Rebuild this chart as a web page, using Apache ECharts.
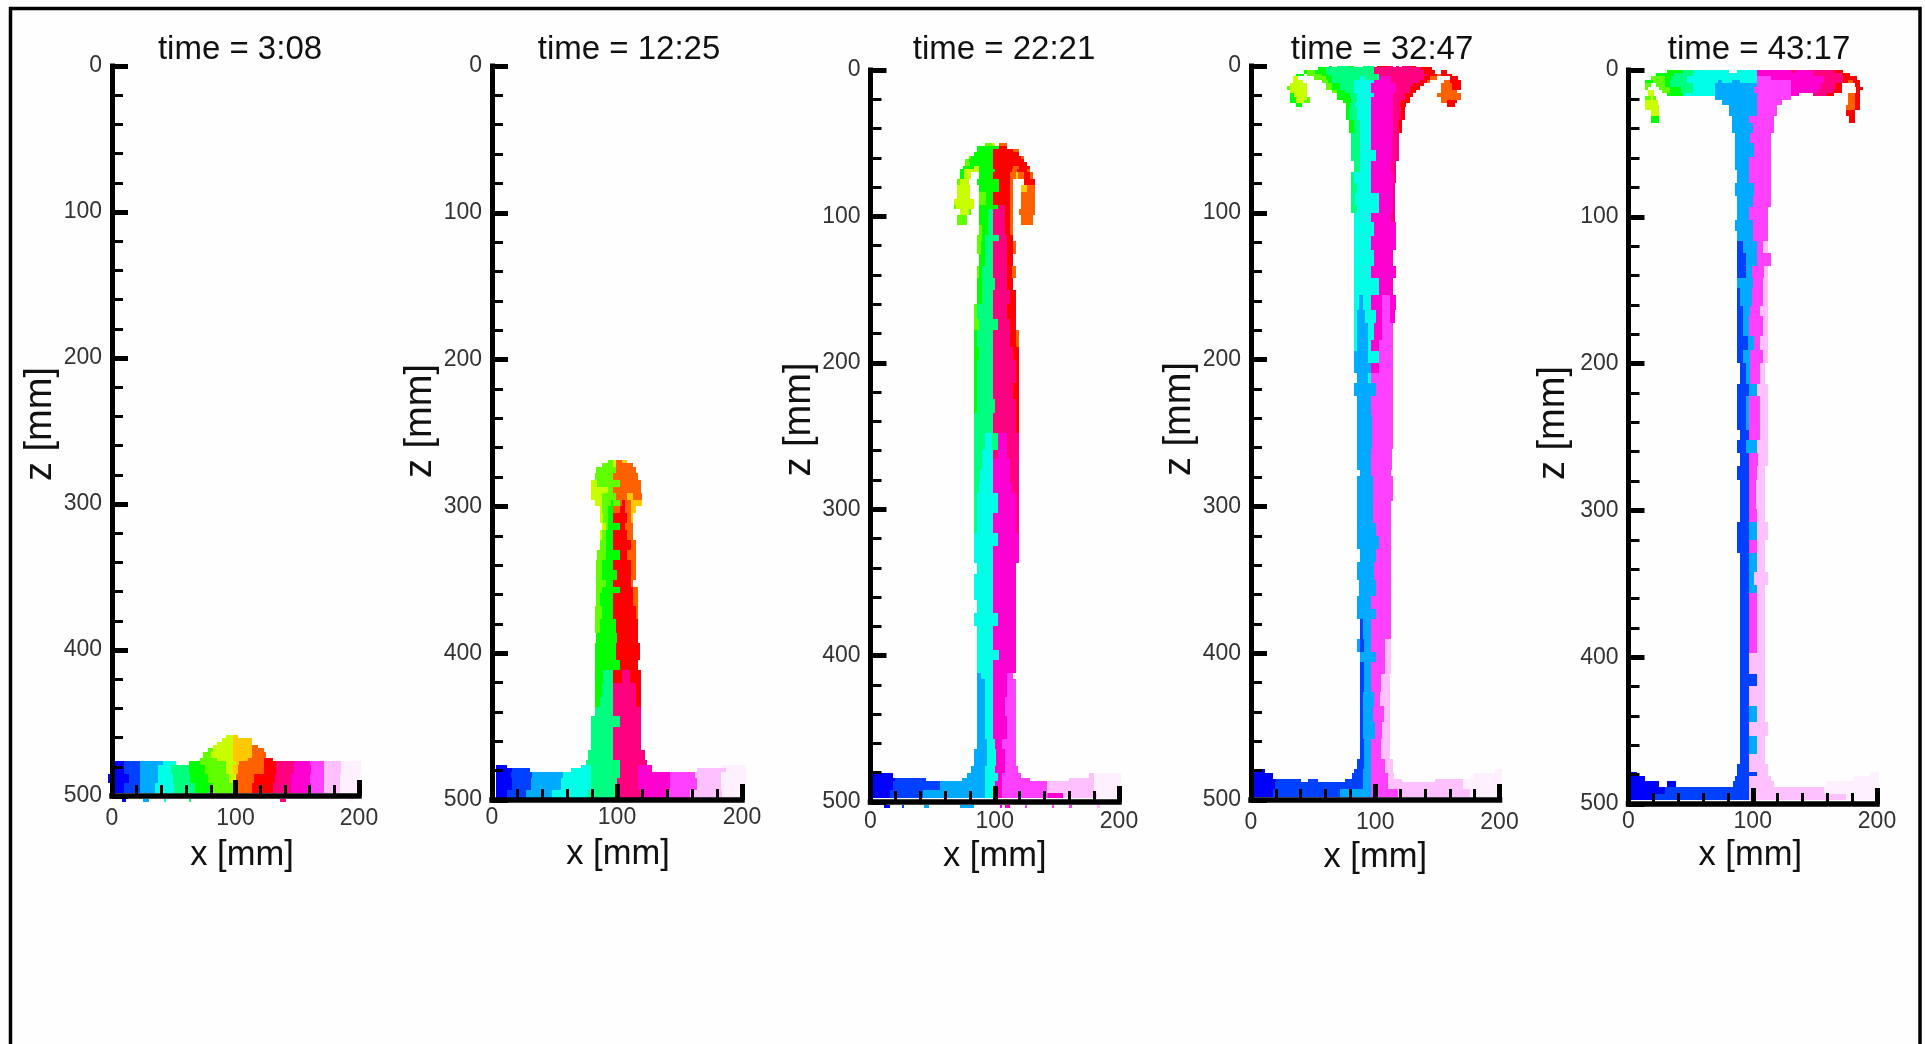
<!DOCTYPE html>
<html>
<head>
<meta charset="utf-8">
<style>html,body{margin:0;padding:0;background:#fff}#c{width:1925px;height:1044px}</style>
<script src="https://cdn.jsdelivr.net/npm/echarts@6/dist/echarts.min.js"></script>
</head>
<body>
<div id="c"></div>
<script>
const panelTitles = ['time = 3:08','time = 12:25','time = 22:21','time = 32:47','time = 43:17'];
const xTickRange = [0, 200];
const zTickRange = [0, 500];
const bandColors = {a:'#0000ff',b:'#0040ff',c:'#00aaff',d:'#00ffe6',e:'#00ff80',f:'#00ff00',g:'#60ff00',h:'#c8ff00',i:'#ffc800',j:'#ff6000',k:'#ff0000',l:'#ff0080',m:'#ff00d0',n:'#ff40ff',o:'#ffc0ff',p:'#fff0ff'};

// Each row: zTop, zBottom, then x, band, x, band, ... x  ('' = empty), in mm
const rows1 = [
[458,460.5,92.7,'h',98,'i',102],
[460.5,462.7,89,'h',98,'i',113],
[462.7,465,84.7,'h',98,'i',113],
[465,467.3,82,'h',98,'i',113,'j',118],
[467.3,469.6,78,'g',82,'h',98,'i',113,'j',123],
[469.6,473.7,74,'g',80,'h',98,'i',113,'j',125],
[473.7,476,71,'g',85,'h',98,'i',110,'j',123,'k',130],
[476,478.7,2.7,'a',9.4,'b',23,'c',41,'d',52,'',62,'f',71,'g',92,'h',100,'i',103,'j',123,'k',133,'l',147,'m',160,'n',172,'o',185.5,'p',202],
[478.7,485,2.7,'a',9.4,'b',23,'c',37,'d',48,'e',62,'f',75,'g',92,'h',98,'i',102,'j',123,'k',133,'l',147,'m',161,'n',172,'o',185.5,'p',202],
[485,491,-3,'a',14,'b',23,'c',37,'d',49,'e',63,'f',78,'g',95,'h',100,'j',115,'k',132,'l',145,'m',160,'n',172,'o',185,'p',201],
[491,498,2.7,'a',10,'b',23,'c',35,'d',50,'e',67,'f',82,'g',100,'j',113,'k',130,'l',145,'m',161,'n',172,'o',185,'p',199],
[502,504,8,'a',11,'',25,'c',30,'',42,'d',44,'',62,'e',64,'',136,'l',141,'',190,'p',195]
];
const rows2 = [
[268.4,270.7,93,'g',97,'h',99,'j',104,'i',108],
[270.7,273,88,'g',97,'h',99.5,'j',113],
[273,277.5,83.5,'g',99.5,'j',115],
[277.5,282,82,'g',97,'j',117],
[282,286.6,79.5,'h',84,'g',102,'j',119.5],
[286.6,291,79.5,'h',93,'g',97,'j',119.5],
[291,295.7,79.5,'h',88,'g',99.5,'j',108,'i',113,'j',120],
[295.7,300,82,'h',88,'g',95,'f',97,'g',102,'j',104,'k',106,'j',111,'i',120],
[300,304.8,86,'h',88,'g',93,'f',97,'j',102,'k',106,'j',111,'i',115],
[304.8,311.6,86,'h',89,'g',93,'f',97,'k',108,'j',111,'i',113],
[311.6,316,88,'h',91,'g',93,'f',102,'k',106,'j',113],
[316,323,86,'h',88,'g',91,'f',97,'k',108,'j',113],
[323,330,86,'g',91,'f',97,'k',111,'j',115],
[330,336.6,84,'g',91,'f',102,'k',108,'j',115],
[336.6,343,83.5,'g',88,'f',97,'k',111,'j',115],
[343,350,83.5,'g',88,'f',100,'k',111,'j',115],
[350,355,83.5,'g',91,'f',97,'k',111,'j',113],
[355,359,83.5,'g',88,'f',102,'k',113,'j',117],
[359,368,83.5,'g',86,'f',97,'k',113,'j',117],
[368,377,82,'g',88,'f',97,'k',115,'j',117],
[377,386.5,82,'g',86,'f',99,'k',117],
[386.5,393,83.5,'f',100,'k',117],
[393,404.7,82,'f',99,'k',118],
[404.7,411.5,82,'f',102,'k',117],
[411.5,420.6,82,'f',89,'e',97,'k',104,'l',110,'k',119],
[420.6,429.7,82,'f',88,'e',97,'l',115,'k',119],
[429.7,436.5,82,'f',86,'e',97,'l',115,'k',119],
[436.5,443,82,'e',97,'l',119.5],
[443,450,79.5,'e',102,'l',119.5],
[450,466,79.5,'e',97,'l',119.5],
[466,472.8,77,'e',97,'l',122],
[472.8,476,75,'e',102,'l',124],
[476,478.5,3.5,'a',12,'',71,'d',79.5,'e',102,'l',117,'m',128,'',183,'p',203],
[478.5,480.7,3.5,'a',16,'b',30,'',63.5,'d',79.5,'e',102,'l',117,'m',128,'',164,'o',187,'p',203],
[480.7,485,3.5,'a',15,'b',32,'c',57,'d',79.5,'e',102,'l',117,'m',142,'n',162,'o',183,'p',203],
[485,493,3.5,'a',16,'b',31,'c',55,'d',79.5,'e',100,'l',117,'m',142,'n',164,'o',183,'p',203],
[493,499,3.5,'a',12,'b',27,'c',48,'d',77,'e',100,'l',120,'m',140,'n',158,'o',184,'p',199]
];
const rows3 = [
[50,52,92,'g',98,'h',100,'',103.5,'j',110],
[52,54,85.7,'f',103.5,'k',110],
[54,56,85.7,'f',98.5,'k',114.7,'j',119.5],
[56,58.7,83,'f',98.5,'k',119.5],
[58.7,60.8,79,'g',81,'f',98.5,'k',121,'j',123.5],
[60.8,62.8,76,'g',79,'f',98.5,'k',123.5],
[62.8,65.5,76,'g',80,'f',98.5,'k',126],
[65.5,67.8,74.7,'f',83,'h',87.5,'f',98.5,'k',114.7,'j',119.5,'k',128],
[67.8,69.9,72,'f',75,'h',87,'f',100,'k',114,'j',118,'k',126,'j',128],
[69.9,74.4,72,'f',75,'h',81,'',87.5,'f',98.5,'k',112,'j',117,'i',119,'j',123.5,'k',128,'j',131],
[74.4,78.5,69.5,'g',72,'h',79,'',85.7,'f',103.5,'k',112,'j',114.7,'',123.5,'k',132.5],
[78.5,83,69.5,'h',80,'',87.5,'f',103.5,'k',112,'j',114.7,'',121,'i',126,'j',132.5],
[83,88,69.5,'h',80,'',87.5,'g',93,'f',98.5,'k',112,'j',114.7,'',121,'j',132.5],
[88,92,67,'h',83,'',87.5,'g',93,'f',98.5,'k',112,'j',114.7,'',121,'j',132.5],
[92,95,67,'g',69,'h',83,'',87.5,'f',103,'l',108,'k',112,'j',114.7,'',121,'j',132.5],
[95,99,72,'h',79,'g',81,'',87.5,'f',94.5,'e',98.5,'l',108,'k',112,'j',114.7,'',119.5,'j',132.5],
[99,106,69.5,'g',78,'',87.5,'f',94.5,'e',98.5,'l',108,'k',112,'j',114.7,'',121,'j',131],
[106,112.6,87.5,'g',90,'f',94.5,'e',98.5,'l',108,'k',112,'j',114.7],
[112.6,117,85.7,'g',90,'f',92,'e',103.5,'l',110,'k',114.7],
[117,126,85.7,'g',89,'f',92,'e',98.5,'l',110,'k',114.7,'j',117],
[126,134,87.5,'f',92,'e',98.5,'l',110,'k',114.7],
[134,142,85.7,'g',87.5,'f',90,'e',98.5,'l',110,'k',114,'j',117],
[142,150,85.7,'f',90,'e',100,'l',110,'k',115],
[150,160,85.7,'f',90,'e',98.5,'l',112,'k',117],
[160,170,83,'g',86,'e',98.5,'l',110,'k',117],
[170,177.5,83,'g',87.5,'e',103,'l',112,'k',117],
[177.5,189,83,'f',86,'e',98.5,'l',112,'k',117,'j',119.5],
[189,198,83,'f',87.5,'e',98.5,'l',114.7,'k',119.5],
[198,214,83,'f',86,'e',98.5,'l',117,'k',119.5],
[214,225,83,'f',85.7,'e',98.5,'l',114.7,'k',119.5],
[225,234,83,'f',85.7,'e',100,'l',117,'k',119.5],
[234,248,83,'e',98.5,'l',117,'k',119.5],
[248,259.4,83,'e',92,'d',98,'e',103,'m',110,'l',119.5],
[259.4,266,83,'e',90,'d',98.5,'l',103,'m',110,'l',119.5],
[266,273,83,'e',90,'d',98.5,'m',112,'l',119.5],
[273,282,83,'e',88,'d',98.5,'m',112,'l',119.5],
[282,289,83,'e',87,'d',98.5,'m',114,'l',119.5],
[289,302.6,83,'e',86,'d',103,'m',117,'l',119.5],
[302.6,316,83,'e',85.7,'d',98.5,'m',117,'l',119.5],
[316,325,83,'d',103,'m',119.5],
[325,337,83,'d',98.5,'m',119.5],
[337,344,85.7,'d',98.5,'m',117],
[344,362,83,'d',98.5,'m',117],
[362,371,85.7,'d',98.5,'m',117],
[371,380,83,'d',103,'m',117],
[380,396,85.7,'d',98.5,'m',117],
[396,403,85.7,'d',103.5,'m',117],
[403,412,85.7,'d',98.5,'m',117],
[412,416,85.7,'c',89,'d',98.5,'m',110,'n',115],
[416,428,85.7,'c',92,'d',98.5,'m',110,'n',117],
[428,441,85.7,'c',92,'d',98.5,'m',108,'n',117],
[441,457,85.7,'c',92,'d',98.5,'m',110,'n',117],
[457,464,85.7,'c',94,'d',100,'m',106,'n',117],
[464,475.5,83,'c',94,'d',101,'m',108,'n',117],
[475.5,480,81,'c',92,'d',100,'m',108,'n',119],
[480,483.5,2,'a',18,'',78,'c',92,'d',103,'m',106,'n',121,'',176,'o',180,'p',202],
[483.5,485.8,2,'a',20,'b',45,'',74,'c',92,'d',103,'m',106,'n',128,'',160,'o',180,'p',202],
[485.8,491.5,2,'a',18,'b',56,'c',92,'d',100,'m',106,'n',142,'o',180,'p',202],
[491.5,494,2,'a',16,'b',42,'c',92,'d',100,'m',106,'n',142,'o',180,'p',200],
[494,497,2,'a',16,'b',42,'c',92,'d',100,'m',106,'n',143,'m',155,'o',182,'p',198],
[502,504,11,'a',16,'',25,'b',27,'',43,'c',47,'',72,'c',83,'',104,'m',106,'',108,'m',112,'',124,'n',126,'',146,'n',148,'',160,'n',162,'',182,'o',185]
];
const rows4 = [
[0,1,62.8,'f',65,'',69,'e',79,'f',83,'',90,'e',99,'',101.4,'k',110,'l',114,'',116.7,'l',119,'',121.5,'l',128,'k',133],
[1,3,54,'f',60,'e',99,'l',136,'k',146],
[3,5.5,42.7,'f',45,'g',51.5,'f',60,'e',99,'l',139,'k',148,'',153,'k',158],
[5.5,7,36,'f',42.7,'',45,'g',57,'f',62.8,'e',103,'l',141.5,'k',150,'j',153,'k',162],
[7,9.5,33.8,'h',38,'',51,'g',60,'f',65,'e',87.7,'d',92,'e',103,'m',112.7,'l',139,'k',144,'j',150,'',160,'k',166.6],
[9.5,11.8,33.8,'h',42,'',57,'g',62,'f',65,'e',83,'d',99,'m',112.7,'l',136,'k',141.5,'j',144,'',155,'j',160,'k',169],
[11.8,13.6,31.4,'h',45,'',60,'g',65,'f',72,'e',83,'d',96.6,'m',116.7,'l',130,'k',139,'',153,'j',161.8,'k',169],
[13.6,16.3,29,'g',31.4,'h',45,'',60.4,'g',65,'f',72,'e',83,'d',96.6,'m',116.7,'l',128,'k',136,'',153,'j',161.8,'k',169],
[16.3,18.6,31.4,'h',45,'',65,'g',69,'f',76,'e',83,'d',96.6,'m',116.7,'l',128,'k',133,'',153,'j',166],
[18.6,20.9,31.4,'f',35,'h',45,'',69,'f',80,'e',85,'d',99,'m',114,'l',124,'k',130,'',150,'j',169],
[20.9,23,31.4,'f',36,'h',45,'g',47.5,'',69,'f',80.5,'e',85.3,'d',96.6,'m',114,'l',124,'k',128,'',153,'j',169],
[23,25.4,31.4,'f',36,'h',42.7,'g',47.5,'',74,'f',80.5,'e',85.3,'d',96.6,'m',114,'l',121,'k',128,'',153,'j',158,'k',166],
[25.4,27.7,36,'f',41,'',76.5,'f',80,'e',84,'d',96.6,'m',114,'l',120,'k',125,'',157.7,'k',164],
[27.7,36.7,76.5,'f',79,'e',85,'d',96.6,'m',114,'l',121,'k',124],
[36.7,45.8,79,'f',83,'e',87.7,'d',96.6,'m',114,'l',119,'k',121.5],
[45.8,57,80.5,'e',87.7,'d',96.6,'m',114,'l',119],
[57,65,80.5,'e',87.7,'d',101,'m',114,'l',119],
[65,72,83,'e',87.7,'d',96.6,'m',112.7,'l',116.7],
[72,80,80.5,'e',83,'d',96.6,'m',114,'l',116.7],
[80,86.6,80.5,'e',85.3,'d',96.6,'m',114,'l',116],
[86.6,94.5,80.5,'e',84,'d',103,'m',114,'l',116],
[94.5,100,80.5,'e',85.3,'d',103,'m',114,'l',116],
[100,106,83,'d',96.6,'m',112.7,'l',116],
[106,116,83,'d',99,'m',116.7],
[116,125,83,'d',96.6,'m',116.7],
[125,136.5,83,'d',99,'m',114],
[136.5,144.5,83,'d',96.6,'m',116.7],
[144.5,155.8,83,'d',103,'m',114],
[155.8,166,83,'d',87,'c',90,'d',96.6,'m',105.4,'n',112,'m',116.7],
[166,175,83,'d',85.3,'c',92,'d',101,'m',105.4,'n',112,'m',116],
[175,186.4,83,'d',85.3,'c',94,'d',99,'m',105.4,'n',114],
[186.4,194,83,'d',85.3,'c',94,'d',96.6,'m',103,'n',114],
[194,202,83,'c',94,'d',103,'n',114],
[202,209,83,'c',96.6,'m',103,'n',114],
[209,216,85.3,'c',94,'d',96.6,'n',114],
[216,225,83,'c',101,'n',114],
[225,238,85.3,'c',96.6,'n',114],
[238,261,85.3,'c',97,'n',114],
[261,275,85.3,'c',96.6,'n',113.5],
[275,279,87.7,'c',96.6,'n',112.7],
[279,296,85.3,'c',98,'n',114],
[296,311,85.3,'c',98,'n',113],
[311,320,85.3,'c',101,'n',113],
[320,329,85.3,'c',103,'n',112.7],
[329,338,87.7,'c',101,'n',112.7],
[338,350,85.3,'c',99,'n',112.7],
[350,361,87,'c',101,'n',112.7],
[361,370,85.3,'c',96.6,'n',112.7],
[370,377,85.3,'c',101,'n',112.7],
[377,390,87.7,'b',90,'c',96.6,'n',112.7],
[390,399.5,85.3,'c',87.7,'b',91,'c',96.6,'n',108,'o',112.7],
[399.5,406,87.7,'c',101,'n',108,'o',112.7],
[406,414,87.7,'b',91,'c',96.6,'n',108,'o',112.7],
[414,426.7,87.7,'b',91,'c',96.6,'n',105,'o',112],
[426.7,435.8,87.7,'b',90,'c',99,'n',104,'o',112],
[435.8,447,87.7,'b',90,'c',98,'n',107,'o',112],
[447,458.5,87.7,'b',90,'c',100,'n',105.4,'o',112],
[458.5,472,87.7,'b',91,'c',96.6,'n',105,'o',112],
[472,479,85.3,'b',91,'c',96.6,'n',108,'o',114],
[479,481.7,2.5,'a',11,'',83,'b',90,'c',96.6,'n',108,'o',114,'',196,'p',202],
[481.7,485.7,2.5,'a',18,'',81,'b',90,'c',96.6,'n',110,'o',115,'',179,'p',202],
[485.7,488,2.5,'a',20,'b',40,'',46,'b',54,'',76,'b',90,'c',96.6,'n',110,'o',121.5,'',148,'o',171,'p',202],
[488,492.5,2.5,'a',19,'b',90,'c',96.6,'n',110,'o',171,'p',202],
[492.5,498,2.5,'a',18,'b',72,'c',96.6,'n',118,'o',176,'p',198]
];
const rows5 = [
[0,1.8,31,'f',44,'e',53,'d',81,'',87,'d',103.4,'m',130.8,'l',135,'m',148.5,'l',166,'k',173],
[1.8,4,22,'f',37,'e',52,'d',103.4,'m',148.5,'l',172,'k',178],
[4,6.8,18,'g',29.4,'f',34,'e',47,'d',103.4,'n',115,'m',157,'l',173,'k',184],
[6.8,9,13,'f',20,'g',29.4,'f',33,'e',47,'d',72,'c',75,'d',83,'c',90,'d',103.4,'n',130.8,'m',157,'l',173,'k',177,'j',181,'k',186],
[9,11.3,13.3,'g',18,'',22,'g',29.4,'f',33,'e',52,'d',69.6,'c',103.4,'n',130.8,'m',155,'l',167,'k',172,'',182,'k',186],
[11.3,13.6,13.3,'g',16,'',24.5,'g',33,'f',42,'e',52,'d',69.6,'c',101,'n',130.8,'m',154,'l',166,'k',172,'',183,'k',189],
[13.6,15.9,16,'h',20.5,'',27,'g',33,'f',42,'e',52,'d',69.6,'c',101,'n',130.8,'m',152,'l',165,'k',172,'',183,'k',186],
[15.9,18,16,'h',20.5,'',31,'f',44,'d',69.6,'c',103.4,'n',130.8,'m',137,'',148.5,'l',159.7,'k',165,'',177,'j',182,'k',186],
[18,20.4,13.3,'g',18,'h',20,'g',22,'',69.6,'c',103.4,'n',130.8,'',177,'j',182,'k',186],
[20.4,23.8,13.3,'h',24,'',75,'c',103.4,'n',123.5,'',177,'j',182,'k',186],
[23.8,27,13.3,'h',24.5,'',81,'c',103.4,'n',119.5,'',175,'j',182,'k',186],
[27,31,18,'h',24.5,'',81,'c',103.4,'n',119.5,'',175,'k',182],
[31,35.8,18,'f',24.5,'',83,'c',97,'n',117,'',177.5,'k',182],
[35.8,43,83,'c',100,'n',117],
[43,50,85.7,'c',98,'n',114.7],
[50,59,85.7,'c',101,'n',114.7],
[59,68,85.7,'c',97,'n',114.7],
[68,77,87.3,'c',97,'n',114.7],
[77,86,85.7,'c',101,'n',114.7],
[86,93,87,'c',100,'n',114.7],
[93,102,87.3,'c',97,'n',112],
[102,110,85.7,'c',100,'n',112],
[110,116.8,87.3,'c',100,'n',112],
[116.8,124.7,87.3,'b',92,'c',103.4,'n',108,'o',112],
[124.7,133.8,87.3,'b',94.5,'c',103.4,'n',115],
[133.8,141.7,87.3,'b',94.5,'c',99,'n',109,'o',112],
[141.7,148.5,87.3,'c',100,'n',108,'o',112],
[148.5,161,87.3,'b',90,'c',99,'n',108,'o',112],
[161,167.8,87.3,'b',92,'c',98,'n',105.8,'o',112],
[167.8,181.4,87.3,'b',92,'c',97,'n',108,'o',112],
[181.4,190.5,87.3,'b',96,'c',101,'n',105.8,'o',112],
[190.5,199.5,87.3,'b',92,'c',98,'n',108,'o',112],
[199.5,214,90,'b',94.5,'c',98,'n',105.8,'o',110],
[214,222,87.3,'b',97,'c',103.4,'o',112],
[222,245,87.3,'b',94.5,'c',97,'n',105.8,'o',112],
[245,252,90,'b',97,'n',105.8,'o',112],
[252,261,87.3,'b',94.5,'c',103.4,'o',112],
[261,270,90,'b',97,'n',104,'o',112],
[270,279,87.3,'b',97,'n',103.4,'o',110],
[279,299,90,'b',97,'n',103,'o',110],
[299,308,90,'b',97,'n',103.4,'o',110],
[308,320,87.3,'b',97,'c',103.4,'o',112],
[320,329,87.3,'b',97,'n',103.4,'o',110],
[329,342,90,'b',97,'c',103.4,'o',110],
[342,351,90,'b',97,'c',101,'o',112],
[351,356,90,'b',97,'c',103.4,'o',110],
[356,397,90,'b',97,'n',103.4,'o',110],
[397,411.6,90,'b',97,'o',110],
[411.6,419.5,90,'b',103.4,'o',110],
[419.5,433,90,'b',97,'o',110],
[433,444,90,'b',97,'c',103.4,'o',110],
[444,453.5,90,'b',97,'o',112],
[453.5,466,90,'b',97,'c',103.4,'o',110],
[466,472.8,90,'b',97,'o',110],
[472.8,478.5,87.3,'b',97,'o',112],
[478.5,481,2,'a',6.5,'',87.3,'b',103.4,'o',112,'',194,'p',202],
[481,484,2,'a',13,'',85.7,'b',97,'o',114.7,'',181,'p',202],
[484,488.7,2,'a',24.5,'',31,'a',38,'',84,'b',97,'o',117,'',160,'p',202],
[488.7,493,2,'a',29,'b',97,'o',157,'p',202],
[493,497,2,'a',21,'b',97,'o',175,'p',200]
];
const panelRows = [rows1, rows2, rows3, rows4, rows5];

// page layout of each panel (px)
const layout = [
  {l:112,  r:359,  t:66, b:796, c:235, xm:11, xg:42, xp:[0,0,0,13], zg:44, zp:14},
  {l:492,  r:742,  t:66, b:800, c:624, xm:6,  xg:37, xp:[0,0,0,2],  zg:45, zp:24},
  {l:870.5,r:1119, t:70, b:802, c:999, xm:8,  xg:37, xp:[0,0,0,0],  zg:51, zp:33},
  {l:1251, r:1499.5,t:66, b:800, c:1377,xm:11, xg:40, xp:[0,0,0,0],  zg:51, zp:28},
  {l:1628.5,r:1877,t:70, b:804, c:1754,xm:6,  xg:33, xp:[0,5,0,0],  zg:56, zp:28}
];
const FONT = '"Liberation Sans", Arial, sans-serif';

function cells(rows){
  const out = [];
  rows.forEach(r=>{
    for(let i=2;i+2<r.length;i+=2){
      if(r[i+1]) out.push([r[i],r[i+2],r[0],r[1],r[i+1]]);
    }
  });
  return out;
}
function makeRenderer(table){
  return function(params, api){
    const row = table[params.dataIndex];
    const p0 = api.coord([row[0], row[2]]);
    const p1 = api.coord([row[1], row[3]]);
    const x0 = Math.round(p0[0]), x1 = Math.round(p1[0]), y0 = Math.round(p0[1]), y1 = Math.round(p1[1]);
    return {type:'rect',shape:{x:x0,y:y0,width:x1-x0,height:y1-y0},style:{fill:bandColors[row[4]]}};
  };
}
const chart = echarts.init(document.getElementById('c'),null,{renderer:'canvas'});
const opt = {
  animation:false, backgroundColor:'#fefefe',
  title:[], grid:[], xAxis:[], yAxis:[], series:[],
  graphic:[{type:'polyline',silent:true,z:100,
    shape:{points:[[10.5,1050],[10.5,8.5],[1920,8.5],[1920,1050]]},
    style:{stroke:'#000',lineWidth:3.5,fill:null}}]
};
layout.forEach((g,i)=>{
  opt.title.push({text:panelTitles[i],left:g.c,top:28,textAlign:'center',
    textStyle:{fontFamily:FONT,fontSize:33,fontWeight:'normal',color:'#111'}});
  opt.grid.push({left:g.l,top:g.t,width:g.r-g.l,height:g.b-g.t,show:false});
  opt.xAxis.push({gridIndex:i,type:'value',min:xTickRange[0],max:xTickRange[1],interval:100,z:5,
    name:'x [mm]',nameLocation:'middle',nameGap:g.xg,
    nameTextStyle:{fontFamily:FONT,fontSize:34.5,color:'#111',padding:g.xp},
    axisLine:{show:true,onZero:false,lineStyle:{color:'#000',width:5.5,cap:'square'}},
    axisTick:{show:true,inside:true,length:16,lineStyle:{color:'#000',width:5}},
    minorTick:{show:true,splitNumber:5,length:11,lineStyle:{color:'#000',width:3}},
    axisLabel:{show:true,margin:g.xm,fontFamily:FONT,fontSize:23,color:'#333',showMinLabel:true,showMaxLabel:true,hideOverlap:false},
    splitLine:{show:false},minorSplitLine:{show:false}});
  opt.yAxis.push({gridIndex:i,type:'value',inverse:true,min:zTickRange[0],max:zTickRange[1],interval:100,z:5,
    name:'z [mm]',nameLocation:'middle',nameGap:g.zg,
    nameTextStyle:{fontFamily:FONT,fontSize:38,color:'#111',padding:[0,0,0,g.zp]},
    axisLine:{show:true,onZero:false,lineStyle:{color:'#000',width:5,cap:'square'}},
    axisTick:{show:true,inside:true,length:16,lineStyle:{color:'#000',width:5}},
    minorTick:{show:true,splitNumber:5,length:11,lineStyle:{color:'#000',width:3}},
    axisLabel:{show:true,margin:10,padding:[7,0,0,0],fontFamily:FONT,fontSize:23,color:'#333',showMinLabel:true,showMaxLabel:true,hideOverlap:false},
    splitLine:{show:false},minorSplitLine:{show:false}});
  const table = cells(panelRows[i]);
  opt.series.push({type:'custom',xAxisIndex:i,yAxisIndex:i,z:1,clip:false,silent:true,
    renderItem:makeRenderer(table),encode:{x:[0,1],y:[2,3]},data:table.map(c=>c.slice(0,4))});
});
chart.setOption(opt);
</script>
</body>
</html>
